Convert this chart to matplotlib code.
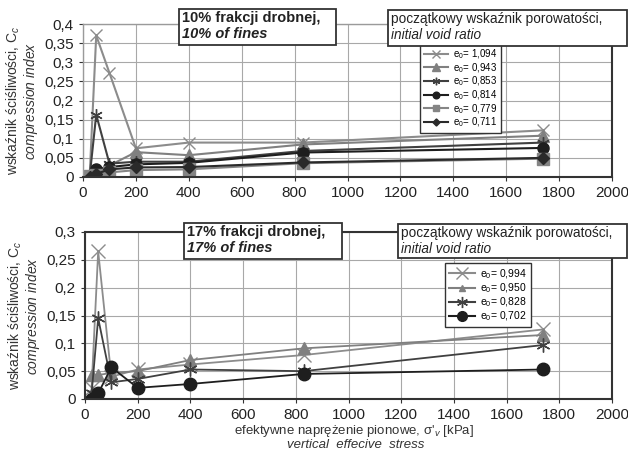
import matplotlib.pyplot as plt
from matplotlib.patches import Rectangle

plt.rcParams['font.family'] = ['Liberation Sans', 'DejaVu Sans']
plt.rcParams['mathtext.fontset'] = 'custom'
plt.rcParams['mathtext.rm'] = 'Liberation Sans'
plt.rcParams['mathtext.it'] = 'Liberation Sans:italic'

# stress levels [kPa]
stress = [25, 50, 100, 200, 400, 830, 1740]

# 10% fines
cc10_1094 = [0.0, 0.37, 0.272, 0.075, 0.09, 0.09, 0.122]
cc10_0943 = [0.0, 0.01, 0.03, 0.065, 0.057, 0.085, 0.108]
cc10_0853 = [0.0, 0.163, 0.035, 0.04, 0.04, 0.068, 0.09]
cc10_0814 = [0.003, 0.021, 0.026, 0.033, 0.037, 0.064, 0.076]
cc10_0779 = [0.002, 0.006, 0.012, 0.018, 0.02, 0.036, 0.048]
cc10_0711 = [0.0, 0.008, 0.02, 0.025, 0.026, 0.038, 0.05]
labels10 = ["e$_0$= 1,094", "e$_0$= 0,943", "e$_0$= 0,853",
            "e$_0$= 0,814", "e$_0$= 0,779", "e$_0$= 0,711"]

# 17% fines
cc17_0994 = [0.02, 0.265, 0.04, 0.053, 0.062, 0.079, 0.125]
cc17_0950 = [0.043, 0.043, 0.047, 0.05, 0.07, 0.091, 0.115]
cc17_0828 = [0.01, 0.145, 0.03, 0.036, 0.053, 0.05, 0.097]
cc17_0702 = [0.0, 0.01, 0.057, 0.02, 0.027, 0.045, 0.053]
labels17 = ["e$_0$= 0,994", "e$_0$= 0,950", "e$_0$= 0,828", "e$_0$= 0,702"]

AST = (6, 2, 0)
styles10 = [("#8c8c8c", "x", 9), ("#808080", "^", 9), ("#404040", AST, 9),
            ("#1e1e1e", "o", 8), ("#858585", "s", 8), ("#2a2a2a", "D", 6)]
styles17 = [("#8c8c8c", "x", 10), ("#808080", "^", 9), ("#404040", AST, 10),
            ("#1e1e1e", "o", 9)]
leg_styles17 = [("#8c8c8c", "x", 8), ("#808080", "^", 5), ("#404040", AST, 8),
                ("#1e1e1e", "o", 7)]

W, H = 628, 451
fig = plt.figure(figsize=(W / 100, H / 100), dpi=100)


def px_axes(x0, y0, x1, y1):
    return fig.add_axes([x0 / W, 1 - y1 / H, (x1 - x0) / W, (y1 - y0) / H])


ax1 = px_axes(83, 24, 612, 177)
ax2 = px_axes(85, 232, 612, 399)


def setup(ax, ymax, light_spines=()):
    ax.set_xlim(0, 2000)
    ax.set_ylim(0, ymax)
    ax.set_xticks(range(0, 2001, 200))
    yt = [i * 0.05 for i in range(int(round(ymax / 0.05)) + 1)]
    ax.set_yticks(yt)
    ax.set_yticklabels(["0" if v == 0 else ("%g" % round(v, 2)).replace(".", ",") for v in yt])
    ax.grid(True, color="#a8a8a8", linewidth=0.8)
    ax.set_axisbelow(True)
    ax.tick_params(labelsize=11, length=3, color="#333333", labelcolor="#222222")
    for name, s in ax.spines.items():
        s.set_color("#9a9a9a" if name in light_spines else "#333333")
        s.set_linewidth(1.0 if name in light_spines else 1.5)
    ax.set_ylabel("wskaźnik ściśliwości, C$_c$\n$\\it{compression\\ index}$",
                  fontsize=10, color="#333333", labelpad=3, linespacing=1.0)


setup(ax1, 0.4, light_spines=("left", "top"))
setup(ax2, 0.3)

series10 = [cc10_1094, cc10_0943, cc10_0853, cc10_0814, cc10_0779, cc10_0711]
h10 = []
for vals, (c, m, ms), lab in zip(series10, styles10, labels10):
    h, = ax1.plot(stress, vals, color=c, marker=m, markersize=ms, linewidth=1.5,
                  label=lab, markeredgecolor=c, markeredgewidth=1.0)
    h10.append(h)

series17 = [cc17_0994, cc17_0950, cc17_0828, cc17_0702]
for vals, (c, m, ms), lab in zip(series17, styles17, labels17):
    ax2.plot(stress, vals, color=c, marker=m, markersize=ms, linewidth=1.3,
             markeredgecolor=c, markeredgewidth=1.0)

leg1 = ax1.legend(handles=h10, loc="upper left", bbox_to_anchor=(0.637, 0.875),
                  fontsize=7, frameon=True, fancybox=False, edgecolor="#333333",
                  handlelength=2.4, handletextpad=0.5, labelspacing=0.0,
                  borderpad=0.45, borderaxespad=0, markerscale=0.6, framealpha=1)
leg1.get_frame().set_linewidth(1.0)

h17 = [plt.Line2D([], [], color=c, marker=m, markersize=ms, linewidth=1.5,
                  markeredgecolor=c) for (c, m, ms) in leg_styles17]
leg2 = ax2.legend(h17, labels17, loc="upper left", bbox_to_anchor=(0.683, 0.814),
                  fontsize=7.5, frameon=True, fancybox=False, edgecolor="#333333",
                  handlelength=2.5, handletextpad=0.5, labelspacing=0.05,
                  borderpad=0.4, borderaxespad=0, framealpha=1)
leg2.get_frame().set_linewidth(1.0)


def box(x0, y0, x1, y1, line1, line2, bold):
    fig.add_artist(Rectangle((x0 / W, 1 - y1 / H), (x1 - x0) / W, (y1 - y0) / H,
                             transform=fig.transFigure, facecolor="white",
                             edgecolor="#333333", linewidth=1.3, zorder=5))
    fw = "bold" if bold else "normal"
    fs = 10.5 if bold else 9.8
    fig.text((x0 + 3) / W, 1 - (y0 + 2) / H, line1, fontsize=fs, fontweight=fw,
             va="top", ha="left", color="#222222", zorder=6)
    fig.text((x0 + 3) / W, 1 - (y0 + 18) / H, line2, fontsize=fs, fontweight=fw,
             style="italic", va="top", ha="left", color="#222222", zorder=6)


box(179, 9, 336, 45, "10% frakcji drobnej,", "10% of fines", True)
box(388, 10, 627, 46, "początkowy wskaźnik porowatości,", "initial void ratio", False)
box(184, 223, 342, 259, "17% frakcji drobnej,", "17% of fines", True)
box(398, 224, 627, 258, "początkowy wskaźnik porowatości,", "initial void ratio", False)

fig.text(354 / W, 1 - 431 / H, "efektywne naprężenie pionowe, σ'$_v$ [kPa]",
         fontsize=9.5, ha="center", va="center", color="#333333")
fig.text(356 / W, 1 - 445 / H, "vertical  effecive  stress",
         fontsize=9.5, style="italic", ha="center", va="center", color="#333333")

fig.savefig("out.png", dpi=100)
